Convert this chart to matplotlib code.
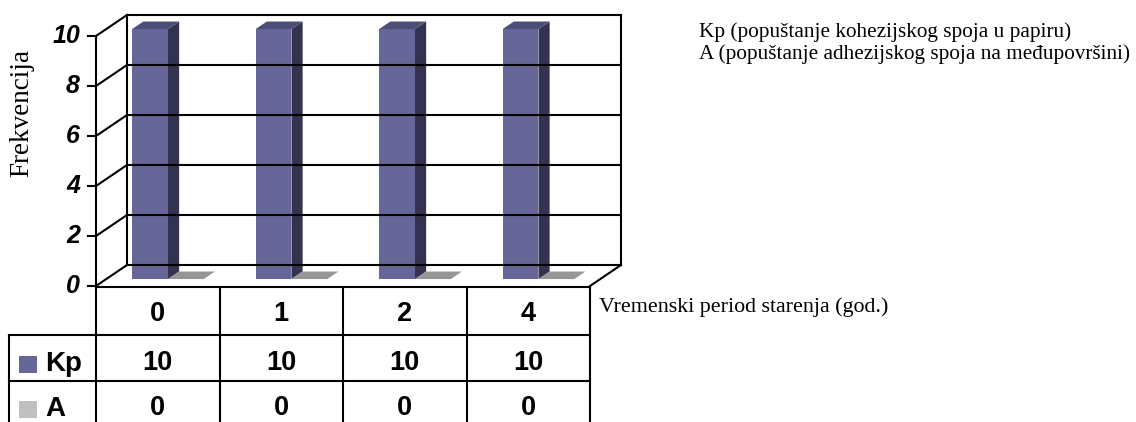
import numpy as np
import matplotlib
matplotlib.use("Agg")
import matplotlib.pyplot as plt
from matplotlib.patches import Polygon, Rectangle
from matplotlib.lines import Line2D
from matplotlib.transforms import IdentityTransform, ScaledTranslation, blended_transform_factory

plt.rcParams.update({
    "font.family": "sans-serif",
    "font.sans-serif": ["Liberation Sans", "DejaVu Sans"],
    "font.serif": ["Liberation Serif", "DejaVu Serif"],
})

# Data
periods = ["0", "1", "2", "4"]
kp_values = [10, 10, 10, 10]
a_values = [0, 0, 0, 0]
series_names = ["Kp", "A"]
y_ticks = [0, 2, 4, 6, 8, 10]

# Colours (Excel-style 3D column look)
KP_FRONT, KP_SIDE, KP_TOP = "#666699", "#33334f", "#4d4d7a"
A_KEY, A_TOP = "#c0c0c0", "#969696"

W, H, DPI = 1136, 422, 100
fig = plt.figure(figsize=(W / DPI, H / DPI), dpi=DPI)

# front plane of the 3D plot: value 0 at y=286 px, value 10 at y=36 px
x0_px, x1_px, y0_px, y1_px = 96, 590, 286, 36
ax = fig.add_axes([x0_px / W, (H - y0_px) / H, (x1_px - x0_px) / W, (y0_px - y1_px) / H])
ax.set_xlim(0, len(periods))
ax.set_ylim(0, 10)
ax.axis("off")

# full-figure pixel layer (y down) for decorations and table
lay = fig.add_axes([0, 0, 1, 1], zorder=-1)
lay.set_xlim(0, W)
lay.set_ylim(H, 0)
lay.axis("off")

DEPTH = np.array([31.0, 21.0])  # depth vector in display pixels
LW = 1.5


def P(x, v, z=0.0):
    return ax.transData.transform((x, v)) + z * DEPTH


def seg(p, q, **kw):
    lay.add_line(Line2D([p[0], q[0]], [p[1], q[1]], transform=IdentityTransform(),
                        color="black", lw=LW, solid_capstyle="projecting", **kw))


def face(pts, color):
    lay.add_patch(Polygon(np.array(pts), closed=True, transform=IdentityTransform(),
                          fc=color, ec="none"))


n = len(periods)

# back wall gridlines and left wall
for v in y_ticks:
    seg(P(0, v, 1), P(n, v, 1))
    seg(P(0, v, 0), P(0, v, 1))
    seg(P(0, v, 0) - np.array([8, 0]), P(0, v, 0))
seg(P(0, 0, 1), P(0, 10, 1))
seg(P(n, 0, 1), P(n, 10, 1))
seg(P(0, 0, 0), P(0, 10, 0))
seg(P(n, 0, 0), P(n, 0, 1))

# 3D columns
bw = 0.29
z0, z1 = 0.33, 0.69
for i in range(n):
    xa = i + 0.5 - bw
    xb = i + 0.5
    xc = i + 0.5 + bw
    v = kp_values[i]
    face([P(xa, 0, z0), P(xb, 0, z0), P(xb, v, z0), P(xa, v, z0)], KP_FRONT)
    face([P(xb, 0, z0), P(xb, 0, z1), P(xb, v, z1), P(xb, v, z0)], KP_SIDE)
    face([P(xa, v, z0), P(xb, v, z0), P(xb, v, z1), P(xa, v, z1)], KP_TOP)
    va = a_values[i]
    if va > 0:
        face([P(xb, 0, z0), P(xc, 0, z0), P(xc, va, z0), P(xb, va, z0)], A_KEY)
    face([P(xb, va, z0), P(xc, va, z0), P(xc, va, z1), P(xb, va, z1)], A_TOP)

# y tick labels
off = ScaledTranslation(-16 / DPI, 0, fig.dpi_scale_trans)
for v in y_ticks:
    ax.text(0, v, str(v), transform=ax.transData + off, ha="right", va="center",
            fontsize=18, fontweight="bold", fontstyle="italic", clip_on=False)

lay.text(22, 113, "Frekvencija", rotation=90, ha="center", va="center",
         fontsize=19.5, family="serif")

# data table under the plot
col_edges = [x0_px + (x1_px - x0_px) * k / n for k in range(n + 1)]
row_top, row_kp, row_a, tbl_left = 287, 335, 381, 9
lay.plot([x0_px, x1_px], [row_top, row_top], color="black", lw=LW)
for yy in (row_kp, row_a):
    lay.plot([tbl_left, x1_px], [yy, yy], color="black", lw=LW)
for xx in col_edges:
    lay.plot([xx, xx], [row_top, H + 5], color="black", lw=LW, clip_on=False)
lay.plot([tbl_left, tbl_left], [row_kp, H + 5], color="black", lw=LW, clip_on=False)

tt = blended_transform_factory(ax.transData, lay.transData)
for i in range(n):
    kw = dict(transform=tt, ha="center", va="center", fontsize=19.5, fontweight="bold")
    lay.text(i + 0.5, 314, periods[i], **kw)
    lay.text(i + 0.5, 363, str(kp_values[i]), **kw)
    lay.text(i + 0.5, 408, str(a_values[i]), **kw)

for name, key, yc in zip(series_names, [KP_FRONT, A_KEY], [364, 409]):
    lay.add_patch(Rectangle((19, yc - 8), 18, 17, fc=key, ec="none"))
    lay.text(45, yc, name, ha="left", va="center", fontsize=20, fontweight="bold")

lay.text(599, 312, "Vremenski period starenja (god.)", ha="left", va="baseline",
         fontsize=15.8, family="serif")
lay.text(699, 37, "Kp (popuštanje kohezijskog spoja u papiru)", ha="left",
         va="baseline", fontsize=15.3, family="serif")
lay.text(699, 59, "A (popuštanje adhezijskog spoja na međupovršini)", ha="left",
         va="baseline", fontsize=15.3, family="serif")

fig.savefig("out.png", dpi=DPI)
